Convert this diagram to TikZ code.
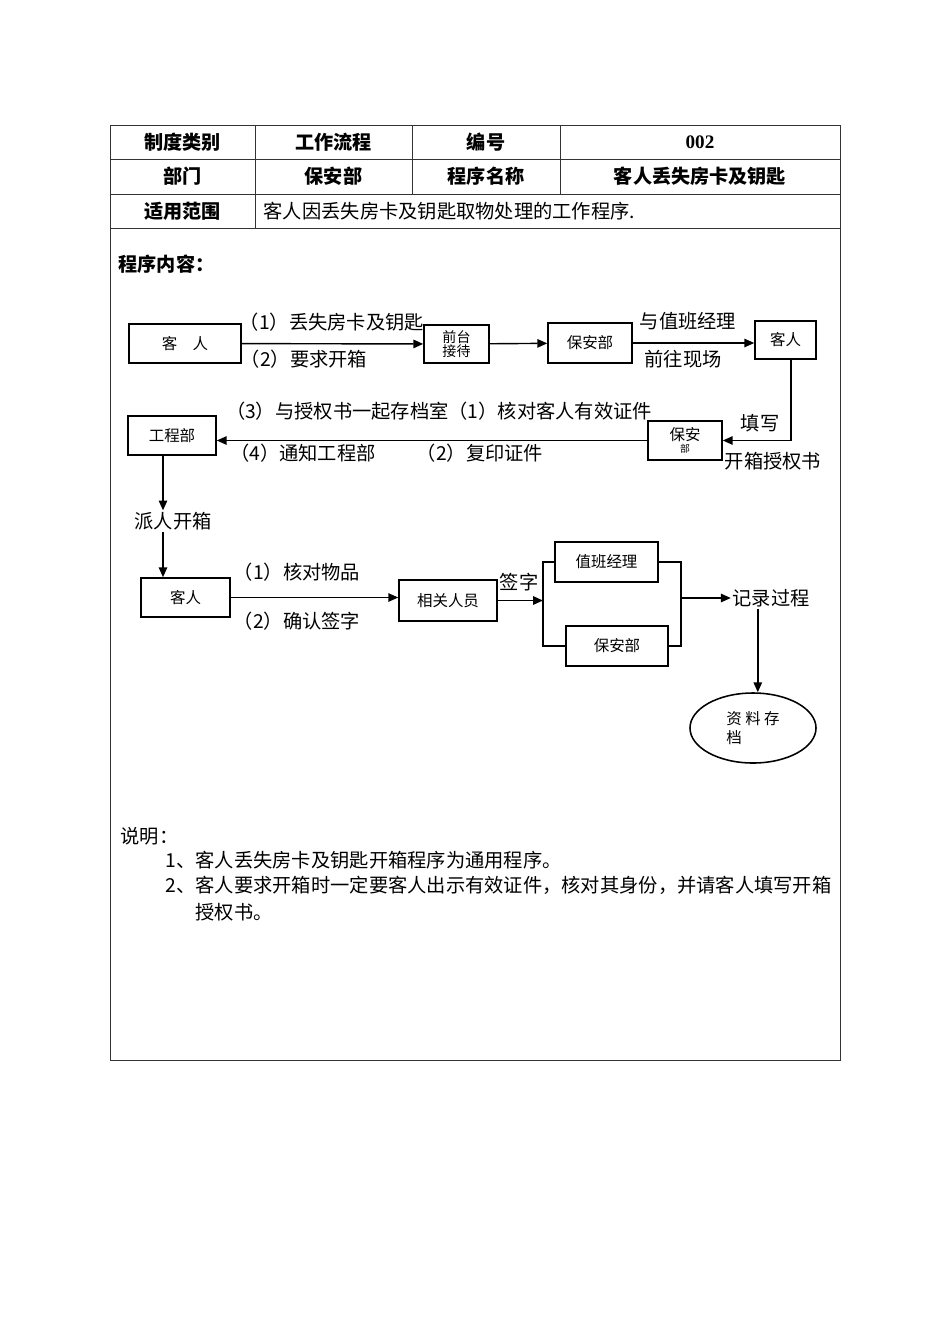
\documentclass[tikz,border=0pt]{standalone}
\usepackage{fontspec}
\setmainfont{Noto Sans CJK SC}
\newfontfamily\latinbf{Liberation Serif}
\usepackage{tikz}
\usetikzlibrary{arrows.meta, shapes.geometric}

\newcommand{\bigtxt}{\fontsize{13.7}{16}\selectfont}
\newcommand{\hdrtxt}{\fontsize{13.6}{16}\selectfont}
\newcommand{\boxtxt}{\fontsize{11}{13}\selectfont}

\tikzset{
    box/.style={draw, line width=1.1pt, rectangle, inner sep=1pt, font=\boxtxt},
    lbl/.style={inner sep=1pt, font=\bigtxt},
    hdr/.style={inner sep=1pt, font=\hdrtxt\bfseries},
    arr/.style={line width=1pt, -{Triangle[length=7pt,width=6pt]}},
    lnk/.style={line width=1pt},
    grid/.style={line width=0.6pt, black!80}
}

\begin{document}
\begin{tikzpicture}[x=0.025cm, y=-0.025cm]
    \useasboundingbox (0,0) rectangle (950,1344);

    % Table frame
    \draw[grid] (110,125) rectangle (840,1060);
    \foreach \y in {159,194,228} {
        \draw[grid] (110,\y) -- (840,\y);
    }
    \draw[grid] (255,125) -- (255,228);
    \foreach \x in {412,560} {
        \draw[grid] (\x,125) -- (\x,194);
    }

    % Table texts
    \node[hdr] (h11) at (182.5,142) {制度类别};
    \node[hdr] (h12) at (333.5,142) {工作流程};
    \node[hdr] (h13) at (486,142) {编号};
    \node[hdr] (h14) at (700,142) {\latinbf\bfseries 002};
    \node[hdr] (h21) at (182.5,176.5) {部门};
    \node[hdr] (h22) at (333.5,176.5) {保安部};
    \node[hdr] (h23) at (486,176.5) {程序名称};
    \node[hdr] (h24) at (700,176.5) {客人丢失房卡及钥匙};
    \node[hdr] (h31) at (182.5,211) {适用范围};
    \node[lbl, anchor=west] (h32) at (262,211) {客人因丢失房卡及钥匙取物处理的工作程序.};

    \node[hdr, anchor=west] (nr) at (117,264) {程序内容：};

    % Row 1
    \node[box, minimum width=2.8cm, minimum height=0.975cm] (kr1) at (185,343.5) {客\quad 人};
    \node[box, minimum width=1.625cm, minimum height=0.95cm, align=center, font=\fontsize{10}{10}\selectfont] (qt) at (456.5,344) {前台\\接待};
    \node[box, minimum width=2.1cm, minimum height=1cm] (ba1) at (590,343) {保安部};
    \node[box, minimum width=1.525cm, minimum height=0.95cm] (kr2) at (785.5,340) {客人};

    \draw[arr] (kr1) -- (qt);
    \draw[arr] (qt) -- (ba1);
    \draw[arr] (ba1.east) -- (ba1.east -| kr2.west);

    \node[lbl] (l1a) at (332,322) {（1）丢失房卡及钥匙};
    \node[lbl] (l1b) at (304,359) {（2）要求开箱};
    \node[lbl] (l2a) at (688,321) {与值班经理};
    \node[lbl] (l2b) at (683,359) {前往现场};

    % Row 2
    \node[box, minimum width=2.2cm, minimum height=0.975cm] (gcb) at (172,435.5) {工程部};
    \node[box, minimum width=1.85cm, minimum height=0.975cm, align=center] (ba2) at (685,440.5) {保安\\[-4pt]{\fontsize{7}{7}\selectfont 部}};

    \draw[arr] ([xshift=0.14cm]kr2.south) |- (ba2.east);
    \draw[arr] (ba2.west) -- (ba2.west -| gcb.east);

    \node[lbl] (l3a) at (760,423) {填写};
    \node[lbl] (l3b) at (773,461) {开箱授权书};
    \node[lbl] (l4a) at (439,411) {（3）与授权书一起存档室（1）核对客人有效证件};
    \node[lbl] (l4b) at (303,453) {（4）通知工程部};
    \node[lbl] (l4c) at (480,453) {（2）复印证件};

    % Down to guest
    \coordinate (dn) at (163,0);
    \node[lbl] (pk) at (173,521) {派人开箱};
    \node[box, minimum width=2.225cm, minimum height=0.975cm] (kr3) at (185.5,597.5) {客人};

    \draw[arr] (gcb.south -| dn) -- (pk.north -| dn);
    \draw[arr] (pk.south -| dn) -- (kr3.north -| dn);

    % Row 3
    \node[box, minimum width=2.45cm, minimum height=1.025cm] (xgry) at (448,600.5) {相关人员};
    \node[box, minimum width=2.575cm, minimum height=1cm] (zbjl) at (606.5,562) {值班经理};
    \node[box, minimum width=2.55cm, minimum height=1cm] (ba3) at (617,646) {保安部};
    \node[lbl] (jl) at (771,598) {记录过程};
    \node[draw, ellipse, line width=1.1pt, minimum width=3.15cm, minimum height=1.75cm,
          align=left, font=\boxtxt] (zd) at (753,728) {资\ 料\ 存\\档\phantom{\ 料\ 存}};

    \draw[arr] (kr3.east) -- (kr3.east -| xgry.west);
    \node[lbl] (l5a) at (297,572) {（1）核对物品};
    \node[lbl] (l5b) at (297,621) {（2）确认签字};
    \node[lbl] (l6) at (519,582) {签字};

    \coordinate (bl) at (543,0);
    \coordinate (br) at (681,0);
    \draw[arr] (xgry.east) -- (xgry.east -| bl);
    \draw[lnk] (zbjl.west) -- (zbjl.west -| bl) -- (ba3.west -| bl) -- (ba3.west);
    \draw[lnk] (zbjl.east) -- (zbjl.east -| br) -- (ba3.east -| br) -- (ba3.east);
    \draw[arr] (jl.west -| br) -- (jl.west);
    \draw[arr] ([xshift=0.12cm]jl.south -| zd.north) -- ([xshift=0.12cm]zd.north);

    % Notes
    \node[lbl, anchor=west] (sm) at (119,836) {说明：};
    \node[lbl, anchor=west] (n1) at (164,860) {1、客人丢失房卡及钥匙开箱程序为通用程序。};
    \node[lbl, anchor=west] (n2) at (164,885) {2、客人要求开箱时一定要客人出示有效证件，核对其身份，并请客人填写开箱};
    \node[lbl, anchor=west] (n3) at (194,912) {授权书。};
\end{tikzpicture}
\end{document}
